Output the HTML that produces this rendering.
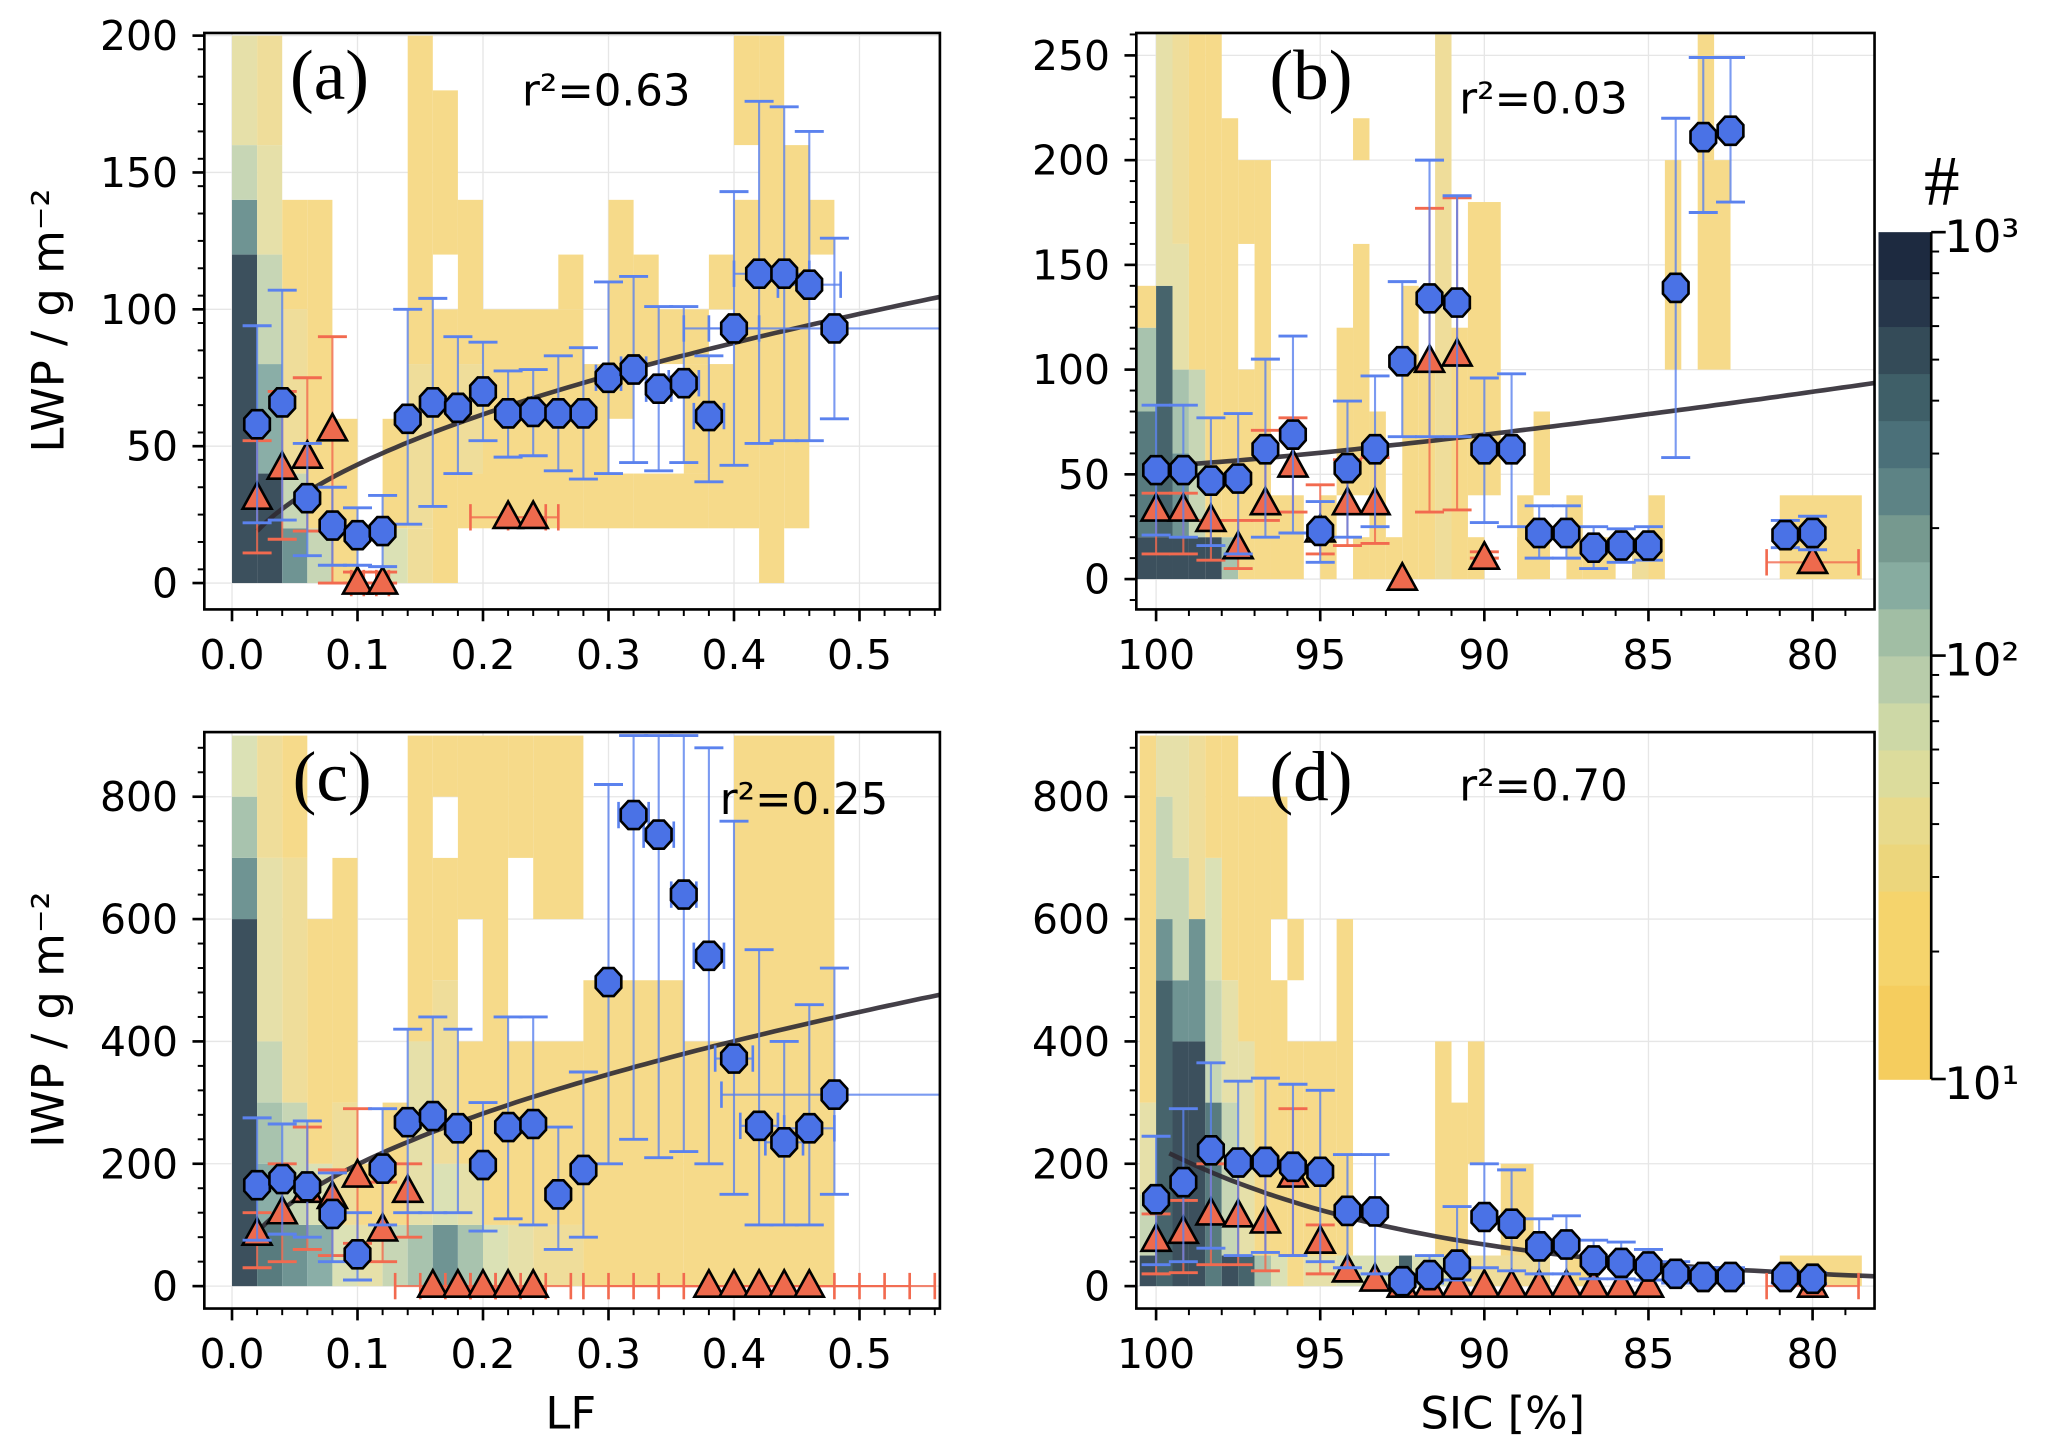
<!DOCTYPE html>
<html><head><meta charset="utf-8">
<style>
html,body{margin:0;padding:0;background:#fff;}
svg{display:block;}
text{font-family:"DejaVu Sans","Liberation Sans",sans-serif;}
text.serif{font-family:"Liberation Serif","DejaVu Serif",serif;}
</style></head>
<body>
<svg id="fig" width="2067" height="1451" viewBox="0 0 1568 1100" preserveAspectRatio="none" xmlns="http://www.w3.org/2000/svg"></svg>
<script>
// ---------- DATA ----------
const aX = [0.02,0.04,0.06,0.08,0.10,0.12,0.14,0.16,0.18,0.20,0.22,0.24,0.26,0.28,0.30,0.32,0.34,0.36,0.38,0.40,0.42,0.44,0.46,0.48];
const aBlue = [58,66,31,21,17.5,19,60,66,64,70,62,62.5,62,62,75,78,71,73,61,93,113,113,109,93];
const aBlueLo = [22,23,10,6.5,6.5,6,21.5,28,40,52,46,46.5,41,38,40,44,41,44,37,43,51,52,52,60];
const aBlueHi = [94,107,51,35,27.5,32,100,104,90,88,77.5,78,83,86,110,112,101,101,83,143,176,174,165,126];
const aBlueXErr = [0,0,0,0,0,0,0,0,0,0,0,0,0,0,0.01,0.01,0.01,0.012,0.012,0.02,0.02,0.02,0.025,0.12];
const aRedX = [0.02,0.04,0.06,0.08,0.10,0.12,0.22,0.24];
const aRed = [31,42,46,56,0,0,24,24];
const aRedLo = [11,16,19,0,0,0,24,24];
const aRedHi = [52,70,75,90,4,4,24,24];
const aRedXErr = [0,0,0,0,0.005,0.005,0.03,0.02];
const aFit = [140,0.51];
const bX = [100,99.17,98.33,97.5,96.67,95.83,95,94.17,93.33,92.5,91.67,90.83,90,89.17,88.33,87.5,86.67,85.83,85,84.17,83.33,82.5,80.83,80];
const bBlue = [52,52,47,48,62,69,23,53,62,104,134,132,62,62,22,22,15,16,16,139,211,214,21,22];
const bBlueLo = [21,20,16,12,20,22,8,20,25,68,68,68,27,25,10,10,5,8,9,58,175,180,15,14];
const bBlueHi = [83,83,77,79,105,116,37,85,97,142,200,183,96,98,35,35,25,24,25,220,249,249,28,30];
const bRedX = [100,99.17,98.33,97.5,96.67,95.83,95,94.17,93.33,92.5,91.67,90.83,90,80];
const bRed = [33,33,28,15,36,54,23,36,36,0,104,107,10,8];
const bRedLo = [12,12,9,5,28,32,12,16,17,0,32,33,10,8];
const bRedHi = [41,41,28,28,71,77,45,57,58,0,177,182,13,8];
const bRedXErr = [0,0,0,0,0,0,0,0,0,0,0,0,0,1.4];
const bFit = [54,0.85,1.245];
const cX = aX;
const cBlue = [165,175,163,118,52,192,268,278,258,198,260,265,150,190,497,770,738,640,540,372,262,235,258,313];
const cBlueLo = [75,85,80,40,10,100,120,120,120,90,110,100,60,80,200,240,210,220,200,150,100,100,100,150];
const cBlueHi = [275,265,270,185,120,290,420,440,420,300,440,440,260,350,820,900,900,900,880,760,550,400,460,520];
const cBlueXErr = [0,0,0,0,0,0,0,0,0,0,0,0,0,0,0,0.012,0.012,0.01,0.012,0.015,0.015,0.015,0.02,0.09];
const cRedX = [0.02,0.04,0.06,0.08,0.10,0.12,0.14,0.16,0.18,0.20,0.22,0.24,0.38,0.40,0.42,0.44,0.46];
const cRed = [85,120,155,145,180,92,155,0,0,0,0,0,0,0,0,0,0];
const cRedLo = [30,40,60,50,70,40,80,0,0,0,0,0,0,0,0,0,0];
const cRedHi = [120,200,260,190,290,170,200,0,0,0,0,0,0,0,0,0,0];
const cRedXErr = [0,0,0,0,0,0,0,0.03,0.03,0.03,0.03,0.03,0.1,0.1,0.1,0.1,0.1];
const cFit = [636,0.505];
const dX = bX;
const dBlue = [142,170,222,202,203,195,187,123,122,8,18,35,113,102,65,68,42,38,32,20,15,15,15,12];
const dBlueLo = [35,40,62,50,55,50,40,30,20,0,5,10,30,25,20,20,12,12,10,5,5,5,5,4];
const dBlueHi = [245,290,365,335,340,330,320,215,215,20,50,130,200,190,110,115,75,72,60,40,30,30,25,22];
const dRedX = [100,99.17,98.33,97.5,96.67,95.83,95,94.17,93.33,92.5,91.67,90.83,90,89.17,88.33,87.5,86.67,85.83,85,80];
const dRed = [75,88,118,115,105,180,72,25,10,0,0,0,0,0,0,0,0,0,0,0];
const dRedLo = [20,22,35,35,25,50,20,25,10,0,0,0,0,0,0,0,0,0,0,0];
const dRedHi = [118,140,200,200,200,290,100,25,10,0,0,0,0,0,0,0,0,0,0,0];
const dRedXErr = [0,0,0,0,0,0,0,0,0,0,0,0,0,0,0,0,0,0,0,1.4];
const dFit = [228,0.121];
// heat cells: [x0,x1,y0,y1,level]
const aHeat = [[0,0.02,0,120,11],[0,0.02,120,140,8],[0,0.02,140,160,5],[0,0.02,160,200,3],
[0.02,0.04,0,40,11],[0.02,0.04,40,80,7],[0.02,0.04,80,120,5],[0.02,0.04,120,160,3],[0.02,0.04,160,200,2],
[0.04,0.06,0,20,8],[0.04,0.06,20,40,5],[0.04,0.06,40,100,2],[0.04,0.06,100,140,1],
[0.06,0.08,0,20,5],[0.06,0.08,20,140,1],[0.08,0.10,0,60,1],
[0.12,0.14,0,20,4],[0.12,0.14,20,60,1],[0.14,0.16,0,20,2],[0.14,0.16,20,80,2],[0.14,0.16,80,200,1],
[0.16,0.18,0,100,1],[0.16,0.18,120,180,1],[0.18,0.20,20,40,1],[0.18,0.20,40,80,2],[0.18,0.20,80,140,1],
[0.20,0.28,20,100,1],[0.26,0.28,100,120,1],[0.28,0.30,20,80,1],[0.30,0.32,20,40,1],[0.30,0.32,60,140,1],
[0.32,0.38,20,40,1],[0.32,0.34,80,120,1],[0.34,0.38,80,100,1],[0.36,0.38,40,80,1],[0.38,0.40,20,80,1],
[0.38,0.40,100,120,1],[0.40,0.42,20,140,1],[0.40,0.42,160,200,1],[0.42,0.44,0,200,1],[0.44,0.46,20,160,1],[0.46,0.48,120,140,1]];
const bHeat = [[100.6,100,0,20,11],[100.6,100,20,80,9],[100.6,100,80,120,6],[100.6,100,120,140,1],
[100,99.5,0,20,11],[100,99.5,20,140,10],[100,99.5,140,260,3],
[99.5,99,0,20,11],[99.5,99,20,60,8],[99.5,99,60,100,6],[99.5,99,100,160,3],[99.5,99,160,260,2],
[99,98.5,0,20,11],[99,98.5,20,100,5],[99,98.5,100,260,1],[98.5,98,0,20,11],[98.5,98,20,260,1],
[98,97.5,0,20,6],[98,97.5,20,220,1],[97.5,97,0,100,1],[97.5,97,160,200,1],[97,96.5,0,200,1],
[96.5,95.5,0,40,1],[95,94.5,0,40,1],[94.5,94,40,120,1],[94,93.5,0,20,1],[94,93.5,40,160,1],[94,93.5,200,220,1],
[93.5,93,0,80,1],[93,92.5,0,20,1],[92.5,92,0,140,1],[92,91.5,0,100,1],[91.5,91,0,260,2],[91,90.5,0,120,1],[90.5,90,0,20,1],
[90.5,89.5,40,180,1],[89,88.5,0,40,1],[89,88,0,20,1],[88.5,88,40,80,1],[87.5,87,0,40,1],[87,86,0,20,1],[85.5,85,0,20,2],[85,84.5,0,40,1],
[84.5,84,100,200,1],[83.5,83,200,260,1],[83.5,82.5,100,200,1],[81,78.5,0,40,1]];
const cHeat = [[0,0.02,0,600,11],[0,0.02,600,700,8],[0,0.02,700,800,6],[0,0.02,800,900,4],
[0.02,0.04,0,100,9],[0.02,0.04,100,200,7],[0.02,0.04,200,300,6],[0.02,0.04,300,400,5],[0.02,0.04,400,700,3],[0.02,0.04,700,900,2],
[0.04,0.06,0,100,8],[0.04,0.06,100,300,5],[0.04,0.06,300,700,2],[0.04,0.06,700,900,1],
[0.06,0.08,0,100,7],[0.06,0.08,100,200,4],[0.06,0.08,200,600,1],[0.08,0.10,0,100,4],[0.08,0.10,100,300,2],[0.08,0.10,300,700,1],
[0.10,0.12,0,100,3],[0.10,0.12,100,200,1],[0.12,0.14,0,100,5],[0.12,0.14,100,300,1],
[0.14,0.16,0,100,6],[0.14,0.16,100,400,3],[0.14,0.16,400,900,1],[0.16,0.18,0,100,8],[0.16,0.18,100,200,4],[0.16,0.18,200,500,2],[0.16,0.18,500,700,1],[0.16,0.18,800,900,1],
[0.18,0.20,0,100,6],[0.18,0.20,100,200,3],[0.18,0.20,200,400,1],[0.18,0.20,600,900,1],[0.20,0.22,0,100,4],[0.20,0.22,100,900,1],
[0.22,0.24,0,100,3],[0.22,0.24,100,400,1],[0.22,0.24,700,900,1],[0.24,0.28,0,100,2],[0.24,0.28,100,400,1],[0.24,0.28,600,900,1],
[0.28,0.36,0,500,1],[0.36,0.40,0,400,1],[0.40,0.48,0,900,1]];
const dHeat = [[100.5,100,0,50,11],[100.5,100,50,150,5],[100.5,100,150,300,3],[100.5,100,300,900,1],
[100,99.5,0,500,10],[100,99.5,500,600,8],[100,99.5,600,800,5],[100,99.5,800,900,3],
[99.5,99,0,400,11],[99.5,99,400,500,8],[99.5,99,500,700,5],[99.5,99,700,900,3],
[99,98.5,0,400,11],[99,98.5,400,600,8],[99,98.5,600,900,2],
[98.5,98,0,300,9],[98.5,98,300,500,5],[98.5,98,500,700,4],[98.5,98,700,900,1],
[98,97.5,0,50,11],[98,97.5,50,300,5],[98,97.5,300,500,3],[98,97.5,500,900,1],
[97.5,97,0,50,10],[97.5,97,50,400,3],[97.5,97,400,800,1],
[97,96.5,0,50,6],[97,96.5,50,800,1],[96.5,96,0,50,4],[96.5,96,50,500,1],[96.5,96,600,800,1],
[96,95.5,0,400,1],[96,95.5,500,600,1],[95.5,94.5,0,50,3],[95.5,94.5,50,400,1],[94.5,94,50,600,1],
[94.5,92.6,0,50,4],[92.6,92.2,0,50,10],[92.2,91,0,50,4],[91.5,91,50,400,1],[91,90.5,50,300,1],[90.5,90,200,400,1],
[91,88.5,0,50,2],[89.5,88.5,50,200,1],[88.5,88,0,50,2],[87.5,86.5,0,50,1],[81,78.5,0,50,1]];
const heatColors = ['#fff','#f6da8a','#efdd9a','#e6e0a9','#dbe1b5','#c7d6b5','#a8c3ae','#8aaea7','#6f9493','#587b7e','#47646c','#3c505d','#2c3a4a'];
const cbColors = ['#f5cd5e','#f5cd5e','#f5d46c','#f5d46c','#ecd67c','#e8da8c','#dcdc9c','#cdd8a6','#b8ccaa','#a1bea4','#87aca0','#76998f','#5d8385','#4b7079','#3f5f68','#344b58','#26364a','#1d2a40'];
const cbTicks = ['10³','10²','10¹'];

// ---------- DRAW ----------
const svg = document.getElementById('fig');
const NS='http://www.w3.org/2000/svg';
function mk(tag, attrs, parent){const e=document.createElementNS(NS,tag);for(const k in attrs)e.setAttribute(k,attrs[k]);(parent||svg).appendChild(e);return e;}

function panel(cfg){
  const g = mk('g',{});
  
  
  const [L,T,R,B]=cfg.box;
  const sx=cfg.sx, sy=cfg.sy;
  const clipId='clip'+cfg.id;
  const cp=mk('clipPath',{id:clipId},g); mk('rect',{x:L,y:T,width:R-L,height:B-T},cp);
  cfg.xt.forEach(v=>{const ln=mk('line',{x1:sx(v),x2:sx(v),y1:T,y2:B,stroke:'#e6e6e6','stroke-width':1},g);});
  cfg.yt.forEach(v=>{const ln=mk('line',{x1:L,x2:R,y1:sy(v),y2:sy(v),stroke:'#e6e6e6','stroke-width':1},g);});
  const hg=mk('g',{'clip-path':'url(#'+clipId+')'},g);
  cfg.heat.forEach(c=>{const xa=sx(c[0]),xb=sx(c[1]),ya=sy(c[2]),yb=sy(c[3]);
    const r=mk('rect',{x:Math.min(xa,xb),y:Math.min(ya,yb),width:Math.abs(xb-xa),height:Math.abs(yb-ya),fill:heatColors[c[4]]},hg);
    });
  let d='';const n=80;
  for(let i=0;i<=n;i++){const v=cfg.fitX0+(cfg.fitX1-cfg.fitX0)*i/n;const yv=cfg.fit(v);d+=(i?'L':'M')+sx(v).toFixed(1)+','+sy(yv).toFixed(1);}
  const fl=mk('path',{d:d,fill:'none',stroke:'#2f2a33','stroke-width':3.5,opacity:0.9,'clip-path':'url(#'+clipId+')'},g);
  
  function series(xs,ys,lo,hi,xe,color,shape,nm){
    const sg=mk('g',{'clip-path':'url(#'+clipId+')'},g);
    
    xs.forEach((xv,i)=>{const px=sx(xv),py=sy(ys[i]),pl=sy(lo[i]),ph=sy(hi[i]);
      if(hi[i]!==lo[i]){mk('line',{x1:px,x2:px,y1:pl,y2:ph,stroke:color,'stroke-width':1.6,opacity:0.8},sg);
        mk('line',{x1:px-11,x2:px+11,y1:pl,y2:pl,stroke:color,'stroke-width':2.2},sg);
        mk('line',{x1:px-11,x2:px+11,y1:ph,y2:ph,stroke:color,'stroke-width':2.2},sg);}
      const e=xe?xe[i]:0;
      if(e>0){const xa=sx(xv-e),xb=sx(xv+e);mk('line',{x1:xa,x2:xb,y1:py,y2:py,stroke:color,'stroke-width':1.6,opacity:0.8},sg);
        mk('line',{x1:xa,x2:xa,y1:py-10,y2:py+10,stroke:color,'stroke-width':2},sg);mk('line',{x1:xb,x2:xb,y1:py-10,y2:py+10,stroke:color,'stroke-width':2},sg);}
    });
    xs.forEach((xv,i)=>{const px=sx(xv),py=sy(ys[i]);let m;
      if(shape==='c'){let pts='';for(let k=0;k<8;k++){const a=Math.PI/8+k*Math.PI/4;pts+=(px+10.5*Math.cos(a)).toFixed(1)+','+(py+11.5*Math.sin(a)).toFixed(1)+' ';}
        m=mk('polygon',{points:pts,fill:'#4a72e6',stroke:'#000','stroke-width':2},sg);}
      else{m=mk('polygon',{points:`${px},${py-12} ${px+11},${py+8} ${px-11},${py+8}`,fill:'#ee6a4d',stroke:'#000','stroke-width':2},sg);}
      });
  }
  series(cfg.rx,cfg.ry,cfg.rlo,cfg.rhi,cfg.rxe,'#f26a4f','t','red-series');
  series(cfg.bx,cfg.by,cfg.blo,cfg.bhi,cfg.bxe,'#5b82ee','c','blue-series');
  const fr=mk('rect',{x:L,y:T,width:R-L,height:B-T,fill:'none',stroke:'#000','stroke-width':2},g);
  
  cfg.xmin.forEach(v=>mk('line',{x1:sx(v),x2:sx(v),y1:B,y2:B+5,stroke:'#000','stroke-width':1.5},g));
  cfg.ymin.forEach(v=>mk('line',{x1:L,x2:L-5,y1:sy(v),y2:sy(v),stroke:'#000','stroke-width':1.5},g));
  cfg.xt.forEach((v,i)=>{mk('line',{x1:sx(v),x2:sx(v),y1:B,y2:B+9,stroke:'#000','stroke-width':2},g);
    const t=mk('text',{x:sx(v),y:B+45,'font-size':31,'text-anchor':'middle'},g);t.textContent=cfg.xl[i];});
  cfg.yt.forEach((v,i)=>{mk('line',{x1:L,x2:L-9,y1:sy(v),y2:sy(v),stroke:'#000','stroke-width':2},g);
    const t=mk('text',{x:L-20,y:sy(v)+11,'font-size':31,'text-anchor':'end'},g);t.textContent=cfg.yl[i];});
  const lt=mk('text',{x:cfg.lab[0],y:cfg.lab[1],'font-size':54,'class':'serif'},g);lt.textContent=cfg.letter;
  
  const rt=mk('text',{x:cfg.r2[0],y:cfg.r2[1],'font-size':33},g);rt.textContent=cfg.r2t;
  
}
const range=(a,b,s)=>{const r=[];for(let v=a;v<=b+1e-9;v+=s)r.push(+v.toFixed(4));return r;};
const sxLF=v=>176+v*952, sxSIC=v=>877+(100-v)*24.9;
const syA=v=>442-v*2.075, syB=v=>439-v*1.588, syC=v=>975-v*0.46375;
const lfT=[0,0.1,0.2,0.3,0.4,0.5], lfL=['0.0','0.1','0.2','0.3','0.4','0.5'];
const sicT=[100,95,90,85,80], sicL=['100','95','90','85','80'];
panel({id:'a',name:'panel-a-lwp-vs-lf',box:[155,25,713,462],sx:sxLF,sy:syA,heat:aHeat,
  fit:v=>aFit[0]*Math.pow(v,aFit[1]),fitX0:0.02,fitX1:0.57,
  bx:aX,by:aBlue,blo:aBlueLo,bhi:aBlueHi,bxe:aBlueXErr,rx:aRedX,ry:aRed,rlo:aRedLo,rhi:aRedHi,rxe:aRedXErr,
  xt:lfT,xl:lfL,yt:[0,50,100,150,200],yl:['0','50','100','150','200'],xmin:range(0,0.56,0.02),ymin:range(-5,200,10).filter(v=>v>=0),
  lab:[220,75],letter:'(a)',r2:[396,80],r2t:'r²=0.63'});
panel({id:'b',name:'panel-b-lwp-vs-sic',box:[862,25,1422,462],sx:sxSIC,sy:syB,heat:bHeat,
  fit:v=>bFit[0]+bFit[1]*Math.pow(Math.max(0,100-v),bFit[2]),fitX0:100,fitX1:78,
  bx:bX,by:bBlue,blo:bBlueLo,bhi:bBlueHi,bxe:null,rx:bRedX,ry:bRed,rlo:bRedLo,rhi:bRedHi,rxe:bRedXErr,
  xt:sicT,xl:sicL,yt:[0,50,100,150,200,250],yl:['0','50','100','150','200','250'],xmin:range(79,100,1),ymin:range(-10,260,10),
  lab:[963,75],letter:'(b)',r2:[1107,86],r2t:'r²=0.03'});
panel({id:'c',name:'panel-c-iwp-vs-lf',box:[155,555,713,992],sx:sxLF,sy:syC,heat:cHeat,
  fit:v=>cFit[0]*Math.pow(v,cFit[1]),fitX0:0.02,fitX1:0.57,
  bx:cX,by:cBlue,blo:cBlueLo,bhi:cBlueHi,bxe:cBlueXErr,rx:cRedX,ry:cRed,rlo:cRedLo,rhi:cRedHi,rxe:cRedXErr,
  xt:lfT,xl:lfL,yt:[0,200,400,600,800],yl:['0','200','400','600','800'],xmin:range(0,0.56,0.02),ymin:range(-40,900,40).filter(v=>v>-40),
  lab:[222,607],letter:'(c)',r2:[546,617],r2t:'r²=0.25'});
panel({id:'d',name:'panel-d-iwp-vs-sic',box:[862,555,1422,992],sx:sxSIC,sy:syC,heat:dHeat,
  fit:v=>dFit[0]*Math.exp(-dFit[1]*(100-v)),fitX0:99.6,fitX1:78,
  bx:dX,by:dBlue,blo:dBlueLo,bhi:dBlueHi,bxe:null,rx:dRedX,ry:dRed,rlo:dRedLo,rhi:dRedHi,rxe:dRedXErr,
  xt:sicT,xl:sicL,yt:[0,200,400,600,800],yl:['0','200','400','600','800'],xmin:range(79,100,1),ymin:range(-40,900,40).filter(v=>v>-40),
  lab:[963,607],letter:'(d)',r2:[1107,607],r2t:'r²=0.70'});

function txt(s,x,y,size,nm,rot){const t=mk('text',{x:x,y:y,'font-size':size,'text-anchor':'middle'});if(rot)t.setAttribute('transform',`rotate(-90 ${x} ${y})`);t.textContent=s;return t;}
txt('LWP / g m⁻²',48,243,34,'y-axis-title-lwp',true);
txt('IWP / g m⁻²',48,773,34,'y-axis-title-iwp',true);
txt('LF',433,1083,34,'x-axis-title-lf');
txt('SIC [%]',1140,1083,34,'x-axis-title-sic');

const cb=mk('g',{});
const cbT=176,cbB=818,cbL=1425,cbR=1465;
const nb=cbColors.length;
cbColors.forEach((c,i)=>{const h=(cbB-cbT)/nb;mk('rect',{x:cbL,y:cbB-(i+1)*h,width:cbR-cbL,height:h+0.6,fill:c},cb);});
mk('line',{x1:cbR,x2:cbR,y1:cbT,y2:cbB,stroke:'#000','stroke-width':2},cb);
[0,1].forEach(dec=>{for(let m=2;m<=9;m++){const y=cbB-(dec+Math.log10(m))/2*(cbB-cbT);mk('line',{x1:cbR,x2:cbR+6,y1:y,y2:y,stroke:'#000','stroke-width':1.5},cb);}});
cbTicks.forEach((s,i)=>{const y=cbT+i*(cbB-cbT)/2;mk('line',{x1:cbR,x2:cbR+11,y1:y,y2:y,stroke:'#000','stroke-width':2},cb);
  const t=mk('text',{x:cbR+10,y:y+15,'font-size':34},cb);t.textContent=s;});
const hs=mk('text',{x:1473,y:155,'font-size':54,'text-anchor':'middle','class':'serif'},cb);hs.textContent='#';

</script>
</body></html>
